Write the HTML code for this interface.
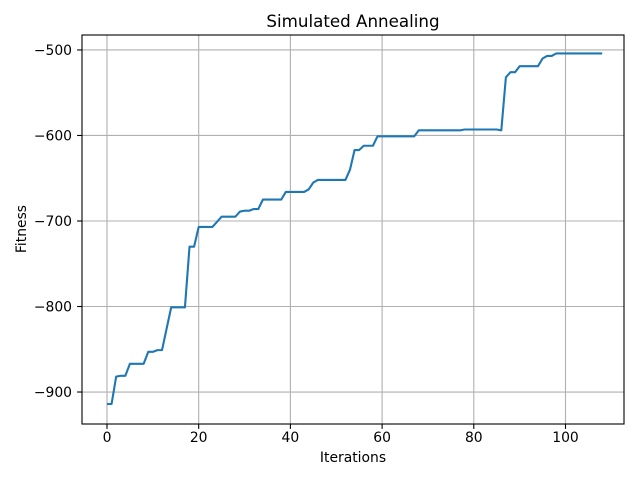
<!DOCTYPE html>
<html><head><meta charset="utf-8"><style>
body{margin:0;background:#fff}
svg text{font-family:"DejaVu Sans","Liberation Sans",sans-serif;fill:#000}
</style></head><body>
<svg id="chart" width="640" height="480" viewBox="0 0 640 480" xmlns="http://www.w3.org/2000/svg">
<rect width="640" height="480" fill="#fff"/>
<g id="grid"></g>
<g id="ticks"></g>
<path id="line" fill="none" stroke="#1f77b4" stroke-width="2.1" stroke-linejoin="round"/>
<rect x="82" y="35" width="542" height="389" fill="none" stroke="#000" stroke-width="1.1"/>
<text x="353" y="27" font-size="16.7" text-anchor="middle">Simulated Annealing</text>
<text x="353" y="462" font-size="13.9" text-anchor="middle">Iterations</text>
<text x="26" y="229" font-size="13.9" text-anchor="middle" transform="rotate(-90 26 229)">Fitness</text>
</svg>
<script>
const fitness = [-914,-914,-882,-881,-881,-867,-867,-867,-867,-853,-853,-851,-851,-826,-801,-801,-801,-801,-730,-730,
-707,-707,-707,-707,-701,-695,-695,-695,-695,-689,-688,-688,-686,-686,-675,-675,-675,-675,-675,-666,
-666,-666,-666,-666,-663,-655,-652,-652,-652,-652,-652,-652,-652,-640,-617,-617,-612,-612,-612,-601,
-601,-601,-601,-601,-601,-601,-601,-601,-594,-594,-594,-594,-594,-594,-594,-594,-594,-594,-593,-593,
-593,-593,-593,-593,-593,-593,-594,-532,-526,-526,-519,-519,-519,-519,-519,-510,-507,-507,-504,-504,
-504,-504,-504,-504,-504,-504,-504,-504,-504];
const xTicks = [0,20,40,60,80,100];
const yTicks = [-900,-800,-700,-600,-500];
const L=82,R=624,T=35,B=424;
const xMin=-5.45,xMax=112.76,yMin=-937.4,yMax=-482.5;
const sx=v=>L+(v-xMin)/(xMax-xMin)*(R-L);
const sy=v=>B-(v-yMin)/(yMax-yMin)*(B-T);
const NS='http://www.w3.org/2000/svg';
const grid=document.getElementById('grid'),ticks=document.getElementById('ticks');
function mk(tag,attrs,parent){const e=document.createElementNS(NS,tag);for(const k in attrs)e.setAttribute(k,attrs[k]);parent.appendChild(e);return e;}
xTicks.forEach(v=>{const x=sx(v);
 const g=mk('line',{x1:x,x2:x,y1:T,y2:B,stroke:'#b0b0b0','stroke-width':1.1},grid);
 
 
 const t=mk('line',{x1:x,x2:x,y1:B,y2:B+4.9,stroke:'#000','stroke-width':1.1},ticks);
 
 
 const l=mk('text',{x:x,y:B+18,'font-size':13.9,'text-anchor':'middle'},ticks);l.textContent=v;
 
 
});
yTicks.forEach(v=>{const y=sy(v);
 const g=mk('line',{x1:L,x2:R,y1:y,y2:y,stroke:'#b0b0b0','stroke-width':1.1},grid);
 
 
 const t=mk('line',{x1:L-4.9,x2:L,y1:y,y2:y,stroke:'#000','stroke-width':1.1},ticks);
 
 
 const l=mk('text',{x:L-10,y:y+5,'font-size':13.9,'text-anchor':'end'},ticks);l.textContent='\u2212'+Math.abs(v);
 
 
});
document.getElementById('line').setAttribute('d',fitness.map((v,i)=>(i?'L':'M')+sx(i).toFixed(2)+' '+sy(v).toFixed(2)).join(' '));
</script>
</body></html>
